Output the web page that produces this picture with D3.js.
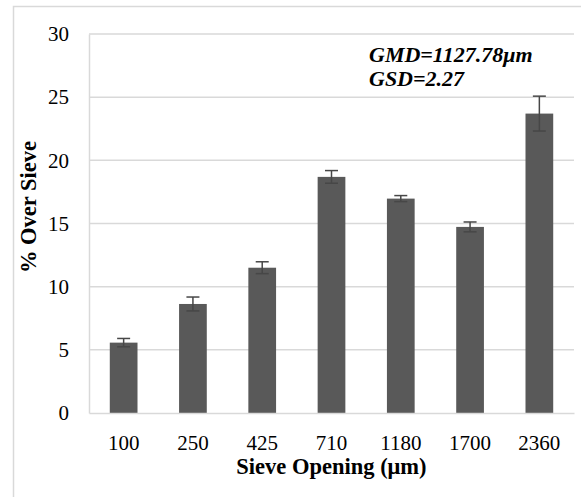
<!DOCTYPE html>
<html>
<head>
<meta charset="utf-8">
<script src="https://cdn.jsdelivr.net/npm/d3@7"></script>
<style>
  body { margin: 0; background: #fff; }
  svg { display: block; }
  text { font-family: "Palatino Linotype", "Book Antiqua", Palatino, "Liberation Serif", serif; fill: #000; }
</style>
</head>
<body>
<div id="chart"></div>
<script>
// data
var sieves = ["100", "250", "425", "710", "1180", "1700", "2360"];
var overSieve = [5.57, 8.63, 11.5, 18.69, 16.97, 14.73, 23.7];
var errors = [0.33, 0.55, 0.47, 0.5, 0.24, 0.39, 1.38];
var yTicks = [0, 5, 10, 15, 20, 25, 30];
var notes = ["GMD=1127.78\u03bcm", "GSD=2.27"];

var outerWidth = 581, outerHeight = 497;
var margin = {top: 34, right: 7, bottom: 84, left: 89};
var width = outerWidth - margin.left - margin.right,
    height = outerHeight - margin.top - margin.bottom;

var svg = d3.select("#chart").append("svg")
    .attr("width", outerWidth)
    .attr("height", outerHeight);

// chart frame (only top/left edges show in the picture)
svg.append("rect")
    .attr("x", 13.5).attr("y", 6.5)
    .attr("width", 600).attr("height", 600)
    .attr("fill", "none")
    .attr("stroke", "#d9d9d9")
    .attr("stroke-width", 1.5);

var g = svg.append("g")
    .attr("transform", "translate(" + margin.left + "," + margin.top + ")");

//////// SCALES ////////
var xScale = d3.scaleBand()
    .domain(sieves)
    .range([0, width])
    .paddingInner(0.6)
    .paddingOuter(0.3);

var yScale = d3.scaleLinear()
    .domain([0, 30])
    .range([height, 0]);

//////// GRID ////////
g.append("g")
    .selectAll("line")
    .data(yTicks.slice(1))
    .enter().append("line")
        .attr("x1", 0)
        .attr("x2", width)
        .attr("y1", function(d) { return yScale(d); })
        .attr("y2", function(d) { return yScale(d); })
        .attr("stroke", "#d9d9d9")
        .attr("stroke-width", 1.5);

//////// BARS ////////
var data = sieves.map(function(s, i) { return {key: s, value: overSieve[i], err: errors[i]}; });

g.append("g")
    .selectAll("rect")
    .data(data)
    .enter().append("rect")
        .attr("x", function(d) { return xScale(d.key); })
        .attr("y", function(d) { return yScale(d.value); })
        .attr("width", xScale.bandwidth())
        .attr("height", function(d) { return height - yScale(d.value); })
        .attr("fill", "#595959");

// error bars
var eb = g.append("g")
    .selectAll("g")
    .data(data)
    .enter().append("g")
        .attr("transform", function(d) { return "translate(" + (xScale(d.key) + xScale.bandwidth() / 2) + ",0)"; })
        .attr("stroke", "#474747")
        .attr("stroke-width", 1.5);

eb.append("line")
    .attr("y1", function(d) { return yScale(d.value - d.err); })
    .attr("y2", function(d) { return yScale(d.value + d.err); });

eb.append("line")
    .attr("x1", -6.5).attr("x2", 6.5)
    .attr("y1", function(d) { return yScale(d.value + d.err); })
    .attr("y2", function(d) { return yScale(d.value + d.err); });

eb.append("line")
    .attr("x1", -6.5).attr("x2", 6.5)
    .attr("y1", function(d) { return yScale(d.value - d.err); })
    .attr("y2", function(d) { return yScale(d.value - d.err); });

//////// AXES ////////
var xAxis = g.append("g")
    .attr("transform", "translate(0," + height + ")")
    .call(d3.axisBottom(xScale).tickSize(0).tickPadding(22));
xAxis.select(".domain").attr("stroke", "#d9d9d9").attr("stroke-width", 1.5);
xAxis.selectAll("text").attr("font-size", 21).attr("font-family", null);

var yAxis = g.append("g")
    .call(d3.axisLeft(yScale).tickValues(yTicks).tickSize(0).tickPadding(20));
yAxis.select(".domain").attr("stroke", "#d9d9d9").attr("stroke-width", 1.5);
yAxis.selectAll("text").attr("font-size", 21).attr("font-family", null);

// axis titles
svg.append("text")
    .attr("x", margin.left + width / 2)
    .attr("y", 474)
    .attr("text-anchor", "middle")
    .attr("font-size", 22.5)
    .attr("font-weight", "bold")
    .text("Sieve Opening (\u03bcm)");

svg.append("text")
    .attr("transform", "translate(36,207) rotate(-90)")
    .attr("text-anchor", "middle")
    .attr("font-size", 22.5)
    .attr("font-weight", "bold")
    .text("% Over Sieve");

// annotation
svg.append("g")
    .selectAll("text")
    .data(notes)
    .enter().append("text")
        .attr("x", 369)
        .attr("y", function(d, i) { return 62 + i * 24; })
        .attr("font-size", 22)
        .attr("font-weight", "bold")
        .attr("font-style", "italic")
        .text(function(d) { return d; });
</script>
</body>
</html>
